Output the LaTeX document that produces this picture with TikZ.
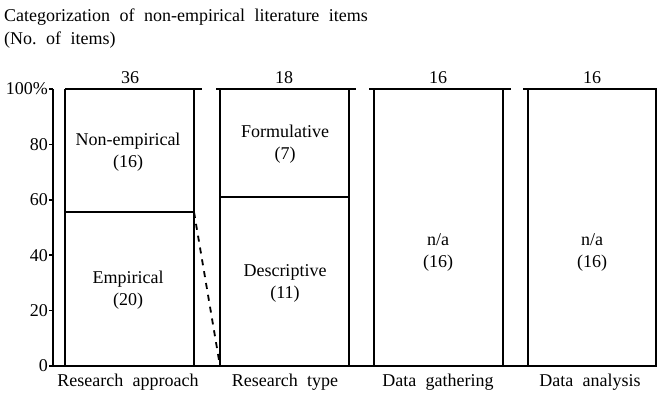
\documentclass[tikz,border=0pt]{standalone}
\usepackage{fontspec}
\setmainfont{Liberation Serif}[WordSpace=2.1]
\frenchspacing
\begin{document}
\begin{tikzpicture}[x=1pt,y=-1pt,
  txt/.style={inner sep=0pt,font=\fontsize{18}{22}\selectfont},
  lbl/.style={txt,align=center},
  axisline/.style={line width=1.6pt},
  barline/.style={line width=2pt},
  splitline/.style={line width=1.6pt},
  dashlink/.style={line width=1.8pt,dash pattern=on 6pt off 6pt}]
\useasboundingbox (0,0) rectangle (660,394);

% title
\node[txt,anchor=west] (title) at (4,17) {Categorization of non-empirical literature items};
\node[txt,anchor=west] (sub) at (4,40) {(No. of items)};

% value axis with ticks and labels
\draw[axisline] (53,89) -- (53,366) -- (657,366);
\foreach \y in {89,144.4,199.8,255.2,310.6,366}{
  \draw[axisline] (49,\y) -- (53,\y);
}
\node[txt,anchor=east] (t100) at (48,89) {100\%};
\node[txt,anchor=east] (t80) at (48,144.4) {80};
\node[txt,anchor=east] (t60) at (48,199.8) {60};
\node[txt,anchor=east] (t40) at (48,255.2) {40};
\node[txt,anchor=east] (t20) at (48,310.6) {20};
\node[txt,anchor=east] (t0) at (48,366) {0};

% bar 1: research approach
\draw[barline] (65,366) -- (65,89);
\draw[barline] (194,366) -- (194,89);
\draw[barline] (65,89) -- (202,89);
\draw[splitline] (65,212) -- (194,212);
\coordinate (splitA) at (194,212);
\node[txt] (n1) at (130,78) {36};
\node[lbl] (ne) at (128,152) {Non-empirical\\(16)};
\node[lbl] (em) at (128,290) {Empirical\\(20)};
\node[txt] (c1) at (128,382) {Research approach};

% bar 2: research type
\draw[barline] (220,366) -- (220,89);
\draw[barline] (349,366) -- (349,89);
\draw[barline] (216,89) -- (356,89);
\draw[splitline] (220,197) -- (349,197);
\coordinate (baseB) at (220,366);
\node[txt] (n2) at (284,78) {18};
\node[lbl] (fo) at (285,144) {Formulative\\(7)};
\node[lbl] (de) at (285,283) {Descriptive\\(11)};
\node[txt] (c2) at (285,382) {Research type};

% bar 3: data gathering
\draw[barline] (374,366) -- (374,89);
\draw[barline] (503,366) -- (503,89);
\draw[barline] (369,89) -- (511,89);
\node[txt] (n3) at (438,78) {16};
\node[lbl] (na3) at (438,252) {n/a\\(16)};
\node[txt] (c3) at (438,382) {Data gathering};

% bar 4: data analysis
\draw[barline] (528,366) -- (528,89);
\draw[barline] (656,366) -- (656,89);
\draw[barline] (523,89) -- (657,89);
\node[txt] (n4) at (592,78) {16};
\node[lbl] (na4) at (592,252) {n/a\\(16)};
\node[txt] (c4) at (590,382) {Data analysis};

% link from the empirical share to the next bar
\draw[dashlink] (splitA) -- (baseB);
\end{tikzpicture}
\end{document}
